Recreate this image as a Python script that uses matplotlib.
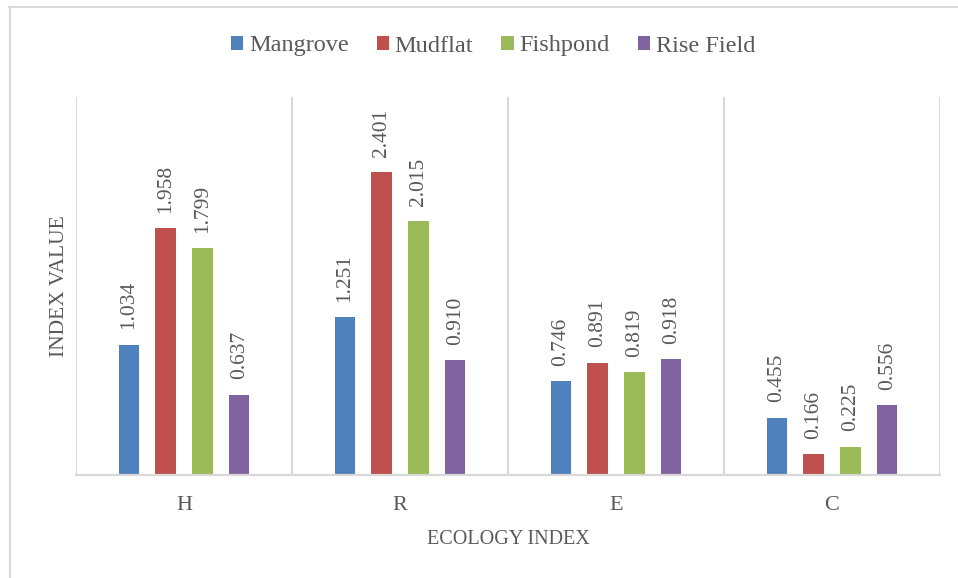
import numpy as np
import matplotlib
matplotlib.use("Agg")
import matplotlib.pyplot as plt
from matplotlib.lines import Line2D

# values
categories = ["H", "R", "E", "C"]
series_names = ["Mangrove", "Mudflat", "Fishpond", "Rise Field"]
mangrove = [1.034, 1.251, 0.746, 0.455]
mudflat = [1.958, 2.401, 0.891, 0.166]
fishpond = [1.799, 2.015, 0.819, 0.225]
rise_field = [0.637, 0.910, 0.918, 0.556]

colors = ["#4F81BD", "#C0504D", "#9BBB59", "#8064A2"]
TXT = "#595959"
GRID = "#D9D9D9"
FONT = "Liberation Serif"

plt.rcParams["font.family"] = [FONT, "DejaVu Serif"]

fig = plt.figure(figsize=(9.58, 5.78), dpi=100)
W, H = 958, 578
ax = fig.add_axes([76 / W, 1 - 475 / H, (940 - 76) / W, (475 - 97) / H])

x = np.arange(len(categories))
step = 0.171
width = 0.093
all_series = [mangrove, mudflat, fishpond, rise_field]

for i, (name, vals) in enumerate(zip(series_names, all_series)):
	pos = x + (i - 1.5) * step
	bars = ax.bar(pos, vals, width, color=colors[i], label=name, zorder=3)
	for b, v in zip(bars, vals):
		ax.annotate(f"{v:.3f}", (b.get_x() + b.get_width() / 2, v),
			xytext=(0, 11), textcoords="offset points",
			rotation=90, ha="center", va="bottom",
			fontsize=15.5, color=TXT)

ax.set_xlim(-0.5, len(categories) - 0.5)
ax.set_ylim(0, 3.0)
ax.vlines(np.arange(len(categories) + 1) - 0.5, 0, 3.0, color=GRID, lw=1.5, zorder=1)

for s in ["top", "left", "right"]:
	ax.spines[s].set_visible(False)
ax.spines["bottom"].set_color(GRID)
ax.spines["bottom"].set_linewidth(1.6)
ax.spines["bottom"].set_zorder(4)

ax.set_yticks([])
ax.set_xticks(x)
ax.set_xticklabels(categories, fontsize=16, color=TXT)
ax.tick_params(axis="x", length=0, pad=15)

fig.text(508 / W, 1 - 539 / H, "ECOLOGY INDEX", ha="center", va="center",
	fontsize=14.5, color=TXT)
fig.text(60 / W, 1 - 286 / H, "INDEX VALUE", ha="center", va="center",
	rotation=90, fontsize=15.5, color=TXT)

fig.legend(loc="center", bbox_to_anchor=(493 / W, 1 - 46 / H), ncol=4,
	frameon=False, fontsize=17.5, labelcolor=TXT,
	handlelength=0.5, handleheight=0.5, handletextpad=0.25,
	columnspacing=1.15, borderaxespad=0)

# outer chart frame (only top and left edges visible)
fig.add_artist(Line2D([9 / W, 1], [1 - 7 / H, 1 - 7 / H], color=GRID, lw=1.5,
	transform=fig.transFigure))
fig.add_artist(Line2D([10 / W, 10 / W], [0, 1 - 7 / H], color=GRID, lw=1.5,
	transform=fig.transFigure))

fig.savefig("out.png", dpi=100)
